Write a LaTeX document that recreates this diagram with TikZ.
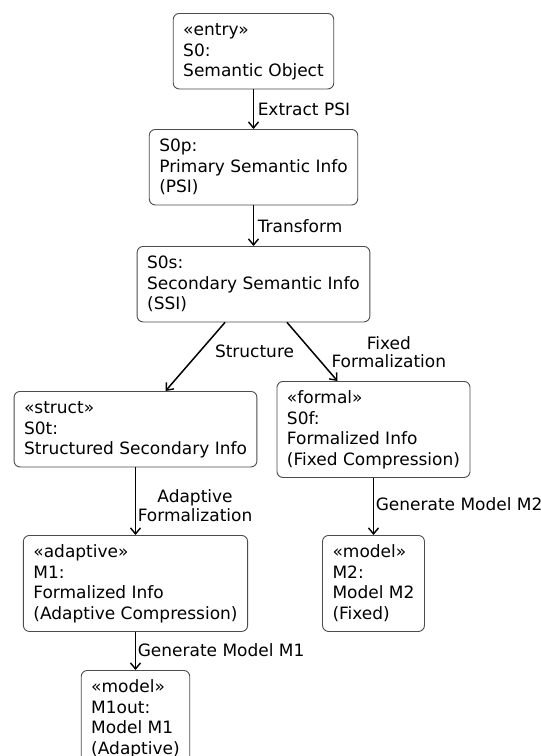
\documentclass[tikz,border=0pt]{standalone}
\usepackage{fontspec}
\setmainfont{DejaVu Sans}
\usetikzlibrary{arrows.meta}

% invisible struts keep every line of a node at the same height
\newcommand{\boxstrut}{\vrule width 0pt height 15pt depth 4.5pt}
\newcommand{\lblstrut}{\vrule width 0pt height 13pt depth 4pt}

\tikzset{
  base font/.style={font=\fontsize{17}{18.6}\selectfont},
  objbox/.style={base font, draw=black!70, line width=0.9pt, fill=white,
    rounded corners=6pt, align=left, inner xsep=10pt, inner ysep=7.5pt,
    anchor=north, text=black},
  flow/.style={draw=black, line width=1.5pt,
    -{Straight Barb[length=6pt,width=10pt,line width=1.4pt]}},
  lbl/.style={base font, inner sep=0pt, align=center, anchor=west, text=black}
}

\begin{document}
\begin{tikzpicture}[x=1pt, y=-1pt]
\clip (0,0) rectangle (541,756);
\fill[white] (0,0) rectangle (541,756);

% object nodes
\node[objbox] (s0)    at (253.5,13)  {\boxstrut«entry»\\\boxstrut S0:\\\boxstrut Semantic Object};
\node[objbox] (s0p)   at (253.5,129) {\boxstrut S0p:\\\boxstrut Primary Semantic Info\\\boxstrut (PSI)};
\node[objbox] (s0s)   at (253.5,246) {\boxstrut S0s:\\\boxstrut Secondary Semantic Info\\\boxstrut (SSI)};
\node[objbox] (s0t)   at (135.5,391) {\boxstrut«struct»\\\boxstrut S0t:\\\boxstrut Structured Secondary Info};
\node[objbox] (s0f)   at (373.5,381) {\boxstrut«formal»\\\boxstrut S0f:\\\boxstrut Formalized Info\\\boxstrut (Fixed Compression)};
\node[objbox] (m1)    at (135.5,535) {\boxstrut«adaptive»\\\boxstrut M1:\\\boxstrut Formalized Info\\\boxstrut (Adaptive Compression)};
\node[objbox] (m2)    at (373.5,535) {\boxstrut«model»\\\boxstrut M2:\\\boxstrut Model M2\\\boxstrut (Fixed)};
\node[objbox] (m1out) at (135.5,670) {\boxstrut«model»\\\boxstrut M1out:\\\boxstrut Model M1\\\boxstrut (Adaptive)};

% transitions
\draw[flow] (s0) -- node[lbl, xshift=3.5pt, yshift=-1.5pt] {\lblstrut Extract PSI} (s0p);
\draw[flow] (s0p) -- node[lbl, xshift=3.5pt, yshift=-2.5pt] {\lblstrut Transform} (s0s);
\draw[flow] ([xshift=-28.5pt]s0s.south) --
  node[lbl, xshift=19pt, yshift=4pt] {\lblstrut Structure} ([xshift=30pt]s0t.north);
\draw[flow] ([xshift=33.5pt]s0s.south) --
  node[lbl, xshift=18.5pt, yshift=-2.3pt] {\lblstrut Fixed\\\lblstrut Formalization} ([xshift=-36pt]s0f.north);
\draw[flow] (s0t) -- node[lbl, xshift=1.5pt, yshift=-6pt] {\lblstrut Adaptive\\\lblstrut Formalization} (m1);
\draw[flow] (s0f) -- node[lbl, xshift=1.5pt] {\lblstrut Generate Model M2} (m2);
\draw[flow] (m1) -- node[lbl, xshift=1.5pt, yshift=-1.5pt] {\lblstrut Generate Model M1} (m1out);
\end{tikzpicture}
\end{document}
